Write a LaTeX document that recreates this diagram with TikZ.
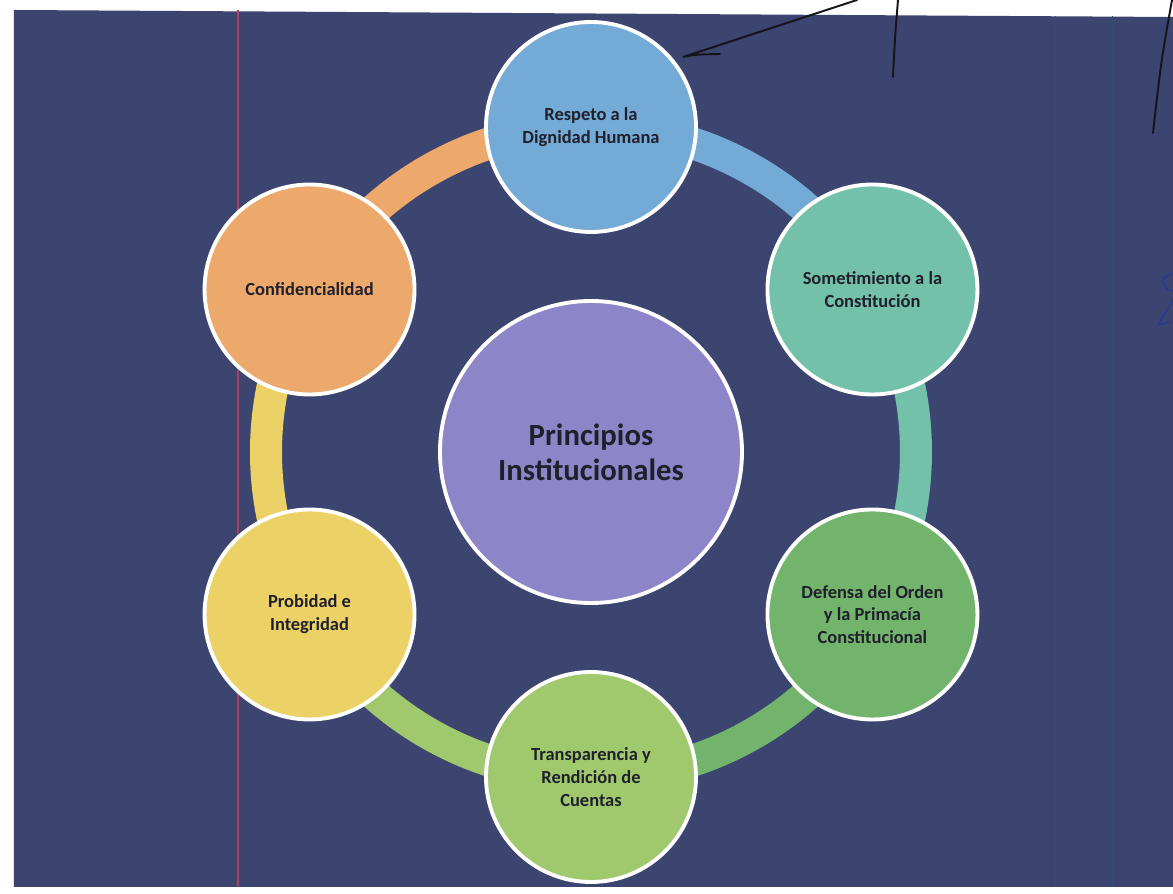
\documentclass[tikz,border=0pt]{standalone}
\usepackage{fontspec}
\setmainfont{Carlito}
\usepackage{tikz}
\definecolor{fondo}{RGB}{59,69,112}
\definecolor{texto}{RGB}{32,32,44}
\definecolor{azul}{RGB}{116,170,214}
\definecolor{turquesa}{RGB}{115,193,169}
\definecolor{verde}{RGB}{114,180,108}
\definecolor{verdeclaro}{RGB}{160,200,108}
\definecolor{amarillo}{RGB}{236,210,102}
\definecolor{naranja}{RGB}{237,168,108}
\definecolor{lila}{RGB}{140,134,200}
\definecolor{rosa}{RGB}{176,64,96}
\definecolor{tinta}{RGB}{20,20,26}
\definecolor{boli}{RGB}{40,56,150}

\tikzset{
  principio/.style={circle,draw=white,line width=2.2pt,minimum size=4.2cm,
    inner sep=0pt,align=center,text=texto,
    font=\bfseries\fontsize{10.5}{13}\selectfont},
  anillo/.style={line width=0.64cm},
  trazo/.style={tinta,line width=1.1pt,line cap=round}
}

\begin{document}
\begin{tikzpicture}
  \useasboundingbox (-11.82,-8.84) rectangle (11.64,9.04);
  \fill[white] (-11.82,-8.84) rectangle (11.64,9.04);
  % fondo escaneado
  \fill[fondo] (-11.54,8.84) -- (11.64,8.70) -- (11.64,-8.70) -- (-11.54,-8.70) -- cycle;
  \draw[rosa,line width=0.6pt] (-7.06,8.84) -- (-7.06,-8.70);
  \draw[fondo!85!teal,line width=0.5pt] (9.28,8.72) -- (9.28,-8.70);
  \draw[fondo!85!teal,line width=0.5pt] (10.42,8.72) -- (10.42,-8.70);

  % posiciones en el anillo
  \coordinate (p1) at ( 90:6.5);
  \coordinate (p2) at ( 30:6.5);
  \coordinate (p3) at (-30:6.5);
  \coordinate (p4) at (-90:6.5);
  \coordinate (p5) at (210:6.5);
  \coordinate (p6) at (150:6.5);

  % anillo
  \draw[anillo,azul]       (p1) arc ( 90: 30:6.5);
  \draw[anillo,turquesa]   (p2) arc ( 30:-30:6.5);
  \draw[anillo,verde]      (p3) arc (-30:-90:6.5);
  \draw[anillo,verdeclaro] (p4) arc (-90:-150:6.5);
  \draw[anillo,amarillo]   (p5) arc (210:150:6.5);
  \draw[anillo,naranja]    (p6) arc (150: 90:6.5);

  % circulos
  \node[principio,fill=azul]       (respeto)  at (p1) {Respeto a la\\Dignidad Humana};
  \node[principio,fill=turquesa]   (sometim)  at (p2) {Sometimiento a la\\Constitución};
  \node[principio,fill=verde]      (defensa)  at (p3) {Defensa del Orden\\y la Primacía\\Constitucional};
  \node[principio,fill=verdeclaro] (transp)   at (p4) {Transparencia y\\Rendición de\\Cuentas};
  \node[principio,fill=amarillo]   (probidad) at (p5) {Probidad e\\Integridad};
  \node[principio,fill=naranja]    (confid)   at (p6) {Confidencialidad};

  \node[principio,fill=lila,minimum size=6.04cm,
    font=\bfseries\fontsize{17.5}{20}\selectfont] (centro) at (0,0) {Principios\\Institucionales};

  % marcas a mano
  \draw[trazo] (2.58,7.96) .. controls (2.1,7.95) .. (1.84,7.90) -- (5.32,9.04);
  \draw[trazo] (6.14,9.04) .. controls (6.08,8.3) .. (6.04,7.50);
  \draw[trazo] (11.62,9.04) .. controls (11.4,7.8) .. (11.24,6.38);
  \draw[boli,line width=0.8pt,line cap=round] (11.62,3.58) .. controls (11.40,3.45) .. (11.46,3.36)
    .. controls (11.52,3.26) .. (11.62,3.22);
  \draw[boli,line width=0.8pt,line cap=round] (11.64,3.04) -- (11.34,2.54) -- (11.58,2.60);
\end{tikzpicture}
\end{document}
